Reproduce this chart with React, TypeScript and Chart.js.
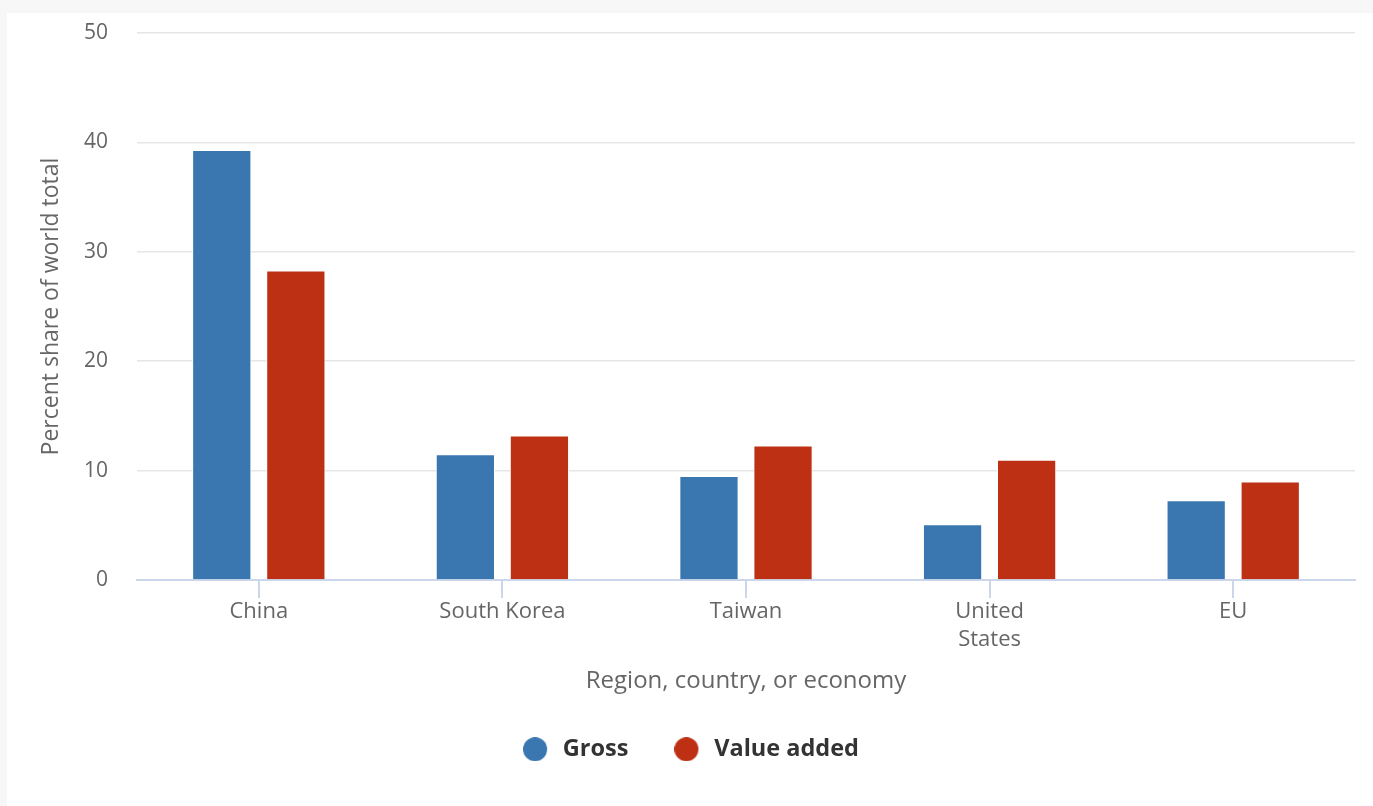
import React, { useEffect, useRef } from "react";
import { Chart, registerables } from "chart.js";

Chart.register(...registerables);

const categories: (string | string[])[] = ["China", "South Korea", "Taiwan", ["United", "States"], "EU"];
const grossValues = [39.3, 11.5, 9.5, 5.1, 7.3];
const valueAddedValues = [28.3, 13.2, 12.3, 11.0, 9.0];
const yTicks = [0, 10, 20, 30, 40, 50];
const seriesNames = ["Gross", "Value added"];
const seriesColors = ["#3a76b0", "#bd3014"];

const FONT = "'Open Sans', 'Noto Sans', sans-serif";

function legendDot(color: string): HTMLCanvasElement {
  const c = document.createElement("canvas");
  c.width = 28;
  c.height = 24;
  const ctx = c.getContext("2d");
  if (ctx) {
    ctx.fillStyle = color;
    ctx.beginPath();
    ctx.arc(12, 12, 12, 0, Math.PI * 2);
    ctx.fill();
  }
  return c;
}

export default function App() {
  const ref = useRef<HTMLCanvasElement | null>(null);

  useEffect(() => {
    document.body.style.margin = "0";
    document.body.style.background = "#f7f7f7";
    if (!ref.current) return;
    const dots = seriesColors.map((c) => legendDot(c));
    const chart = new Chart(ref.current, {
      type: "bar",
      data: {
        labels: categories,
        datasets: [
          {
            label: seriesNames[0],
            data: grossValues,
            backgroundColor: seriesColors[0],
            borderColor: "#ffffff",
            borderWidth: 1,
            categoryPercentage: 0.608,
            barPercentage: 0.8,
          },
          {
            label: seriesNames[1],
            data: valueAddedValues,
            backgroundColor: seriesColors[1],
            borderColor: "#ffffff",
            borderWidth: 1,
            categoryPercentage: 0.608,
            barPercentage: 0.8,
          },
        ],
      },
      options: {
        animation: false,
        responsive: false,
        maintainAspectRatio: false,
        layout: { padding: { top: 20, right: 18, left: 20, bottom: 35 } },
        plugins: {
          tooltip: { enabled: false },
          legend: {
            position: "bottom",
            labels: {
              usePointStyle: true,
              pointStyleWidth: 28,
              boxHeight: 17,
              padding: 46,
              color: "#333333",
              font: { family: FONT, size: 23.5, weight: "bold" },
              generateLabels: (ch: any) =>
                Chart.defaults.plugins.legend.labels
                  .generateLabels(ch)
                  .map((item: any, i: number) => ({ ...item, pointStyle: dots[i] })),
            },
          },
        },
        scales: {
          x: {
            grid: {
              offset: false,
              drawOnChartArea: false,
              drawTicks: true,
              tickLength: 18,
              color: "#ccd6eb",
              lineWidth: 2,
            },
            border: { color: "#ccd6eb", width: 2 },
            ticks: {
              color: "#666666",
              padding: 0,
              maxRotation: 0,
              font: { family: FONT, size: 22, lineHeight: 28 / 22 },
            },
            title: {
              display: true,
              text: "Region, country, or economy",
              color: "#666666",
              font: { family: FONT, size: 24, lineHeight: 1 },
              padding: { top: 15.5, bottom: -2 },
            },
          },
          y: {
            min: 0,
            max: 50,
            afterFit: (scale: any) => {
              scale.width = 110;
              scale.paddingTop = 12;
              scale.paddingBottom = 12;
            },
            afterBuildTicks: (scale: any) => {
              scale.ticks = yTicks.map((v) => ({ value: v }));
            },
            grid: { color: "#e6e6e6", lineWidth: 1.5, drawTicks: false },
            border: { display: false },
            ticks: {
              color: "#666666",
              padding: 29,
              font: { family: FONT, size: 21 },
            },
            title: {
              display: true,
              text: "Percent share of world total",
              color: "#666666",
              font: { family: FONT, size: 23 },
              padding: { top: 11, bottom: 0 },
            },
          },
        },
      },
    });
    return () => chart.destroy();
  }, []);

  return (
    <div style={{ marginLeft: 7, marginTop: 13, width: 1366, height: 793, background: "#ffffff" }}>
      <canvas ref={ref} width={1366} height={793} style={{ display: "block" }} />
    </div>
  );
}
